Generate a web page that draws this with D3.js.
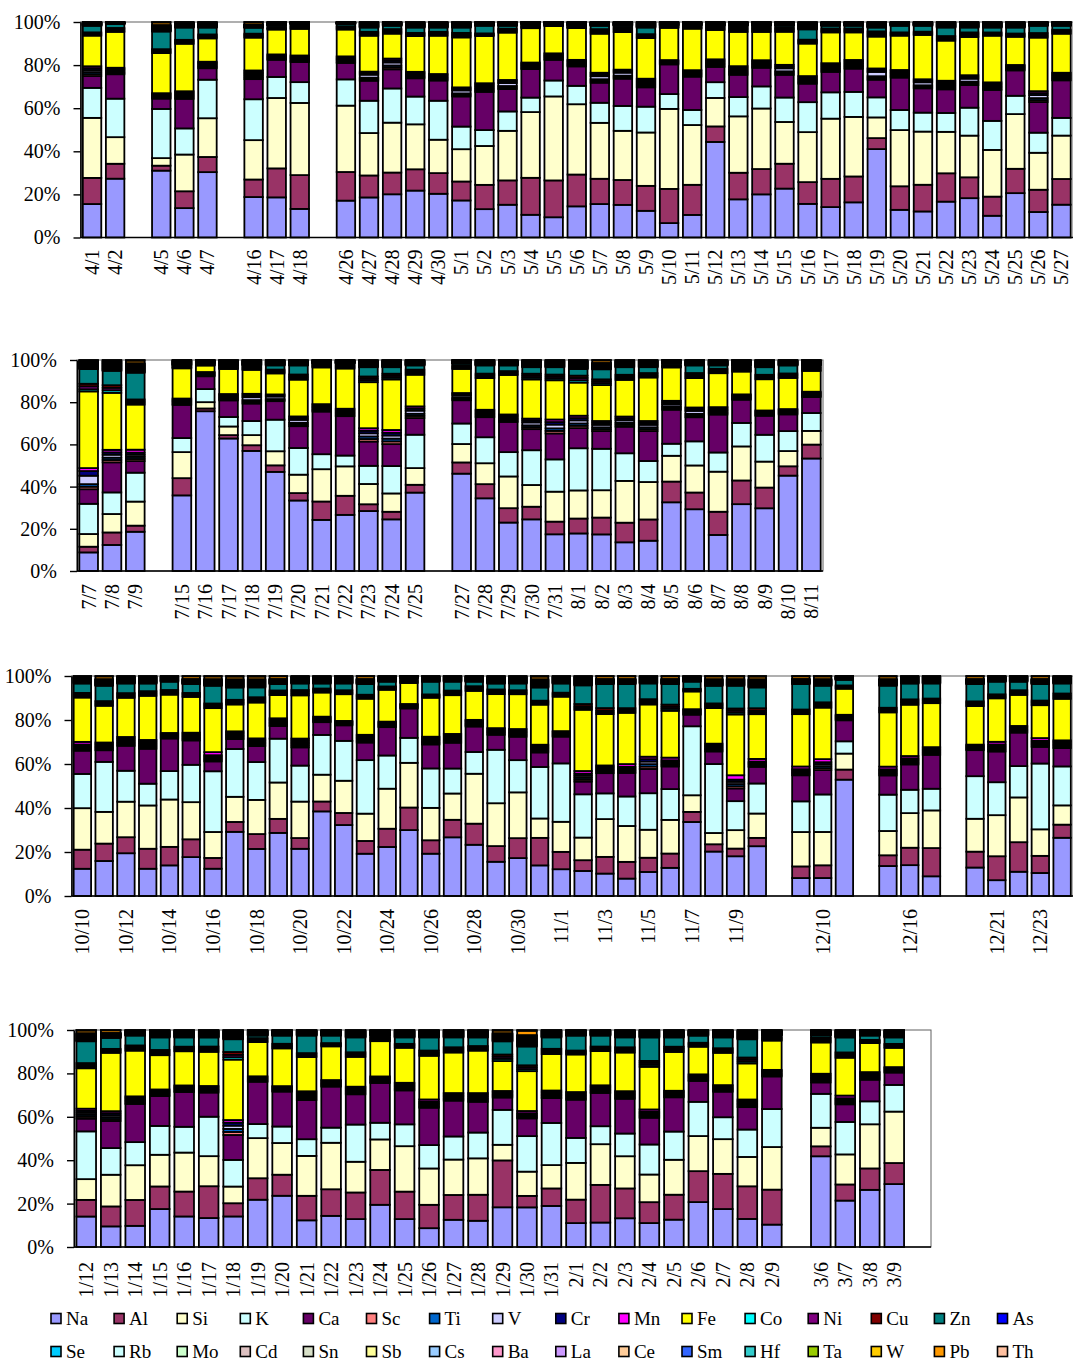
<!DOCTYPE html>
<html>
<head>
<meta charset="utf-8">
<script src="https://cdn.jsdelivr.net/npm/d3@7"></script>
<style>
  body { margin: 0; background: #fff; }
  svg text { font-family: "Liberation Serif", "Times New Roman", serif; fill: #000; }
</style>
</head>
<body>
<svg id="chart" width="1073" height="1363"></svg>
<script>
// Sampling days for the four seasonal panels ("" marks a blank separator slot)
const dates1 = ["4/1","4/2","","4/5","4/6","4/7","","4/16","4/17","4/18","","4/26","4/27","4/28","4/29","4/30",
  "5/1","5/2","5/3","5/4","5/5","5/6","5/7","5/8","5/9","5/10","5/11","5/12","5/13","5/14","5/15","5/16","5/17",
  "5/18","5/19","5/20","5/21","5/22","5/23","5/24","5/25","5/26","5/27"];
const dates2 = ["7/7","7/8","7/9","","7/15","7/16","7/17","7/18","7/19","7/20","7/21","7/22","7/23","7/24","7/25","",
  "7/27","7/28","7/29","7/30","7/31","8/1","8/2","8/3","8/4","8/5","8/6","8/7","8/8","8/9","8/10","8/11"];
const dates3 = ["10/10","10/11","10/12","10/13","10/14","10/15","10/16","10/17","10/18","10/19","10/20","10/21","10/22",
  "10/23","10/24","10/25","10/26","10/27","10/28","10/29","10/30","10/31","11/1","11/2","11/3","11/4","11/5","11/6",
  "11/7","11/8","11/9","11/10","","12/9","12/10","12/11","","12/15","12/16","12/17","","12/20","12/21","12/22","12/23","12/24"];
const dates4 = ["1/12","1/13","1/14","1/15","1/16","1/17","1/18","1/19","1/20","1/21","1/22","1/23","1/24","1/25","1/26",
  "1/27","1/28","1/29","1/30","1/31","2/1","2/2","2/3","2/4","2/5","2/6","2/7","2/8","2/9","","3/6","3/7","3/8","3/9",""];

// Element legend order (stack order, bottom to top) and fill colours
const elements = ["Na","Al","Si","K","Ca","Sc","Ti","V","Cr","Mn","Fe","Co","Ni","Cu","Zn","As",
  "Se","Rb","Mo","Cd","Sn","Sb","Cs","Ba","La","Ce","Sm","Hf","Ta","W","Pb","Th"];
const colors = ["#9999FF","#993366","#FFFFCC","#CCFFFF","#660066","#FF8080","#0066CC","#CCCCFF","#000080","#FF00FF",
  "#FFFF00","#00FFFF","#800080","#800000","#008080","#0000FF","#00CCFF","#CCFFFF","#CCFFCC","#DCC0C0","#D8E0C8",
  "#FFFF99","#99CCFF","#FF99CC","#CC99FF","#FFCC99","#3366FF","#33CCCC","#99CC00","#FFCC00","#FF9900","#FFC0A0"];

// Element mass fractions per sample (per mille), spring / summer / autumn-early winter / winter rows
const Na = [155,272,310,136,302,187,187,132,170,186,201,218,203,172,132,152,105,94,144,155,152,124,67,105,443,178,201,226,156,141,163,410,128,121,167,183,101,206,118,152,
  88,123,186,360,758,629,570,471,333,242,265,284,245,371,460,344,229,245,174,179,174,136,144,325,292,171,316,297,450,534,
  124,159,195,124,139,177,124,291,215,288,215,385,324,192,223,298,192,268,233,155,173,139,122,114,102,79,110,128,338,201,181,227,82,82,531,137,140,90,129,72,110,105,266,
  141,95,98,175,141,133,141,218,236,123,144,129,195,129,87,126,121,183,183,190,110,113,133,110,126,206,175,129,103,420,213,264,290];
const Al = [121,69,23,78,70,81,135,156,132,102,101,99,96,88,113,113,171,171,147,117,116,116,159,140,72,124,118,115,101,131,120,51,109,124,132,97,89,113,103,119,
  27,59,29,82,13,16,27,31,35,87,90,32,36,37,53,67,68,60,60,71,80,93,101,98,79,110,112,98,44,66,
  87,79,73,91,84,81,49,45,68,64,49,45,55,58,83,102,61,80,96,71,91,125,79,49,76,76,65,65,46,33,35,38,53,58,46,49,79,129,72,109,134,78,60,
  77,92,120,104,115,146,61,99,97,113,123,123,161,127,108,115,120,216,53,81,108,174,138,96,115,142,162,150,161,46,74,99,97];
const Si = [278,123,35,170,179,182,328,333,306,197,232,209,155,150,181,230,304,390,325,259,229,248,372,278,132,263,282,193,232,279,276,96,260,247,193,194,217,254,171,201,
  60,87,114,124,30,41,48,67,87,153,139,96,87,79,87,99,150,103,142,134,130,198,178,122,128,190,161,123,72,65,
  189,144,162,197,215,169,118,114,156,166,166,122,147,124,182,202,147,120,227,194,209,88,137,103,172,163,128,153,76,51,84,111,157,152,73,111,157,172,149,187,203,121,88,
  96,146,161,146,180,138,77,185,146,184,215,142,141,210,168,164,168,72,112,108,169,188,149,127,161,161,160,135,196,86,138,204,237];
const K = [139,178,228,121,178,189,98,96,121,150,159,129,181,105,74,90,67,74,85,93,116,120,69,70,73,90,103,113,139,122,116,93,93,88,88,130,135,85,93,82,
  143,102,137,67,62,45,67,150,126,71,51,86,130,158,97,123,115,165,153,201,197,131,100,57,114,91,111,127,94,85,
  156,227,141,99,129,170,276,217,173,200,164,181,182,243,151,113,179,114,99,242,147,234,266,197,117,134,167,140,315,312,132,137,140,171,56,166,106,99,193,150,142,300,178,
  221,123,107,133,119,181,123,65,76,77,70,172,77,101,108,107,119,161,164,195,115,83,105,138,130,157,101,126,175,157,149,106,123];
const Ca = [55,113,48,137,53,93,80,93,76,93,89,85,94,140,178,104,132,96,90,93,127,90,138,155,71,104,87,105,86,95,108,82,150,113,110,105,144,118,142,174,
  69,142,55,158,61,79,83,88,103,202,186,115,104,79,110,95,143,100,123,96,84,126,142,161,114,180,110,90,79,76,
  106,53,114,159,148,111,45,45,73,58,83,58,71,80,129,133,109,118,116,68,107,66,122,58,92,107,111,103,53,57,58,76,119,111,96,88,115,155,118,140,152,76,84,
  59,125,177,138,161,111,115,195,161,181,190,140,184,157,173,166,142,57,82,115,176,154,161,123,158,96,118,103,150,53,81,100,57];
const Sc = [9,6,5,7,6,8,5,6,6,7,9,6,6,7,8,7,6,6,6,8,7,8,4,6,7,8,7,8,7,8,8,8,7,7,8,8,7,5,9,7,
  12,11,10,6,4,6,8,5,8,7,7,12,13,10,6,7,7,9,12,11,9,9,9,8,8,7,5,5,5,5,
  7,7,8,8,5,7,7,7,7,7,8,5,4,7,5,4,7,8,6,6,7,7,5,9,7,7,11,7,5,7,10,6,7,9,5,7,7,7,5,8,6,7,7,
  9,9,7,6,6,6,14,5,5,8,6,7,6,7,7,7,8,6,6,7,7,7,7,7,6,6,6,7,6,8,7,7,5];
const Ti = [9,6,5,7,6,8,5,6,6,7,9,6,6,7,8,7,6,6,6,8,7,8,4,6,7,8,7,8,7,8,8,8,7,7,8,8,7,5,9,7,
  12,11,10,6,4,6,8,5,8,7,7,12,13,10,6,7,7,9,12,11,9,9,9,8,8,7,5,5,5,5,
  7,7,8,8,5,7,7,7,7,7,8,5,4,7,5,4,7,8,6,6,7,7,5,9,7,7,11,7,5,7,10,6,7,9,5,7,7,7,5,8,6,7,7,
  9,9,7,6,6,6,14,5,5,8,6,7,6,7,7,7,8,6,6,7,7,7,7,7,6,6,6,7,6,8,7,7,5];
const V = [9,6,5,7,6,8,5,6,6,14,14,6,6,14,8,14,6,6,6,14,14,8,4,6,7,8,7,14,7,8,8,20,7,14,8,14,7,5,14,7,
  40,14,10,6,4,6,14,12,14,7,7,15,15,15,10,7,7,14,18,15,12,12,12,10,14,7,5,5,5,5,
  7,7,8,8,5,7,7,7,7,7,8,5,4,7,5,4,7,8,6,6,7,7,5,9,7,7,12,7,5,7,10,6,7,9,5,7,7,7,5,8,6,7,7,
  9,9,7,6,6,6,15,5,5,8,6,7,6,7,7,7,8,6,6,7,7,7,7,7,6,6,6,7,6,8,7,7,5];
const Cr = [9,6,5,7,6,8,5,6,6,7,9,6,6,7,8,7,6,6,6,8,7,8,4,6,7,8,7,8,7,8,8,8,7,7,8,8,7,5,9,7,
  22,11,10,6,4,6,8,5,8,7,7,12,13,10,6,7,7,9,12,11,9,9,9,8,8,7,5,5,5,5,
  7,7,8,8,5,7,7,7,7,7,8,5,4,7,5,4,7,8,6,6,7,7,5,9,7,7,11,7,5,7,10,6,7,9,5,7,7,7,5,8,6,7,7,
  9,9,7,6,6,6,14,5,5,8,6,7,6,7,7,7,8,6,6,7,7,7,7,7,6,6,6,7,6,8,7,7,5];
const Mn = [9,6,5,7,6,8,5,6,6,7,9,6,6,7,8,7,6,6,6,8,7,8,4,6,7,8,7,8,7,8,8,8,7,7,8,8,7,5,9,7,
  14,12,14,6,4,6,8,5,8,7,7,12,13,10,6,7,7,9,12,11,9,9,9,8,8,7,5,5,5,5,
  12,7,8,8,5,7,14,7,7,7,8,5,4,7,5,4,7,8,6,6,7,7,5,12,7,12,11,12,5,7,20,12,12,14,5,12,10,7,5,12,6,12,7,
  10,9,7,6,6,6,12,5,5,8,6,7,6,7,10,7,8,6,10,7,7,7,7,10,6,6,6,7,6,8,12,7,5];
const Fe = [142,166,186,220,108,152,116,123,124,167,116,166,178,232,220,220,159,127,147,181,175,189,150,193,136,160,132,153,151,143,128,148,159,206,187,178,217,131,248,181,
  363,269,214,144,31,119,114,100,174,174,190,218,240,150,114,150,187,186,186,158,171,174,207,158,139,161,108,148,147,99,
  202,167,179,201,174,163,200,122,164,106,197,110,122,164,145,95,177,177,132,154,159,182,157,279,234,233,239,213,81,161,277,204,239,235,119,248,233,201,175,198,141,150,190,
  187,269,212,158,158,157,279,158,174,158,156,138,163,162,202,188,196,138,184,169,173,158,179,196,179,127,149,166,135,145,174,134,89];
const Co = [5,6,6,6,6,6,3,5,5,6,7,5,6,7,4,6,4,2,2,7,7,6,2,3,5,7,7,6,6,6,6,8,5,5,7,7,5,5,7,6,
  10,12,8,3,2,4,5,6,8,4,5,9,9,8,5,7,6,9,9,11,9,8,7,3,8,7,7,7,7,6,
  7,7,7,7,7,6,7,7,8,7,8,6,6,6,5,5,5,7,7,7,6,6,6,8,8,7,8,9,4,7,9,8,7,8,5,7,8,7,7,6,7,7,8,
  8,6,8,8,7,8,11,6,7,6,5,7,6,6,8,8,7,10,9,8,6,7,8,9,8,6,7,9,5,7,8,5,6];
const Ni = [5,6,6,6,6,6,3,5,5,6,7,5,6,7,4,6,4,2,2,7,7,6,2,3,5,7,7,6,6,6,6,8,5,5,7,7,5,5,7,6,
  14,12,8,3,2,4,5,6,8,4,5,9,9,8,5,7,6,9,9,11,9,8,7,3,8,7,7,7,7,6,
  7,7,7,7,7,6,7,7,8,7,8,6,6,6,5,5,5,7,7,7,6,6,6,8,8,7,8,9,4,7,9,8,7,8,5,7,8,7,7,6,7,7,8,
  8,6,8,8,7,8,11,6,7,6,5,7,6,6,8,8,7,10,9,8,6,7,8,9,8,6,7,9,5,7,8,5,6];
const Cu = [5,6,6,6,6,6,3,5,5,6,7,5,6,7,4,6,4,2,2,7,7,6,2,3,5,7,7,6,6,6,6,8,5,5,7,7,5,5,7,6,
  12,12,8,3,2,4,5,6,8,4,5,9,9,8,5,7,6,9,9,11,9,8,7,3,8,7,7,7,7,6,
  7,7,7,7,7,6,7,7,8,7,8,6,6,6,5,5,5,7,7,7,6,6,6,10,11,7,8,10,4,7,9,11,7,8,5,7,8,7,7,6,7,7,8,
  8,6,8,8,7,8,13,6,7,6,5,7,6,6,8,8,7,10,9,8,6,7,8,9,8,6,7,9,5,7,8,5,6];
const Zn = [31,19,82,57,32,28,9,8,11,20,16,25,20,25,36,14,8,4,5,16,9,31,4,5,5,8,8,10,48,13,13,18,31,28,40,23,23,28,34,19,
  70,68,127,5,3,5,6,20,43,6,8,44,31,20,10,39,27,31,35,32,48,36,28,9,36,16,8,36,38,8,
  43,70,44,35,38,41,81,56,45,30,30,23,31,49,22,8,58,41,21,27,31,60,42,85,110,110,72,94,33,80,104,95,117,76,26,101,72,69,79,58,39,76,46,
  101,51,46,58,43,42,59,12,38,81,35,69,8,30,61,46,40,61,87,53,69,51,46,108,43,33,50,84,8,11,69,20,30];
// trace elements
const As = [1,0.5,2,1.5,1.5,1,1,0.5,0.5,1.5,1,1.5,1.5,1.5,1,1,0.5,0.5,1,1,1,1.5,1,1,1,1,1,1,2,1,1,1.5,1,1,1.5,1.5,1.5,1.5,1,1,
  2.5,3,3,1.5,1,1.5,1.5,1.5,1.5,1,1,2,2,1.5,1,1.5,1.5,2,2,2.5,2,2,2,1,1.5,1.5,1.5,2,1.5,1.5,
  2,2,2,2,1.5,1.5,2,2.5,2.5,1.5,2,2,2,1.5,1.5,0.5,1.5,1.5,1.5,2,2,2.5,2,2.5,1.5,1.5,2,1.5,1.5,2,2,2.5,1.5,2,1,2,2,2,1.5,1.5,1.5,1.5,2,
  2.5,1.5,1.5,2,2,2,2.5,1.5,1.5,1.5,1.5,2,1.5,2,2,2,2,2.5,3.5,2,1.5,1.5,2,2,2,1.5,2,2.5,1.5,1.5,2,1.5,2];
const Se = [1,0.5,2,1.5,1.5,1,1,0.5,0.5,1.5,1,1.5,1.5,1.5,1,1,0.5,0.5,1,1,1,1.5,1,1,1,1,1,1,2,1,1,1.5,1,1,1.5,1.5,1.5,1.5,1,1,
  2.5,3,3,1.5,1,1.5,1.5,1.5,1.5,1,1,2,2,1.5,1,1.5,1.5,2,2,2.5,2,2,2,1,1.5,1.5,1.5,2,1.5,1.5,
  2,2,2,2,1.5,1.5,2,2.5,2.5,1.5,2,2,2,1.5,1.5,0.5,1.5,1.5,1.5,2,2,2.5,2,2.5,1.5,1.5,2,1.5,1.5,2,2,2.5,1.5,2,1,2,2,2,1.5,1.5,1.5,1.5,2,
  2.5,1.5,1.5,2,2,2,2.5,1.5,1.5,1.5,1.5,2,1.5,2,2,2,2,2.5,3.5,2,1.5,1.5,2,2,2,1.5,2,2.5,1.5,1.5,2,1.5,2];
const Rb = [1,0.5,2,1.5,1.5,1,1,0.5,0.5,1.5,1,1.5,1.5,1.5,1,1,0.5,0.5,1,1,1,1.5,1,1,1,1,1,1,2,1,1,1.5,1,1,1.5,1.5,1.5,1.5,1,1,
  2.5,3,3,1.5,1,1.5,1.5,1.5,1.5,1,1,2,2,1.5,1,1.5,1.5,2,2,2.5,2,2,2,1,1.5,1.5,1.5,2,1.5,1.5,
  2,2,2,2,1.5,1.5,2,2.5,2.5,1.5,2,2,2,1.5,1.5,0.5,1.5,1.5,1.5,2,2,2.5,2,2.5,1.5,1.5,2,1.5,1.5,2,2,2.5,1.5,2,1,2,2,2,1.5,1.5,1.5,1.5,2,
  2.5,1.5,1.5,2,2,2,2.5,1.5,1.5,1.5,1.5,2,1.5,2,2,2,2,2.5,3.5,2,1.5,1.5,2,2,2,1.5,2,2.5,1.5,1.5,2,1.5,2];
const Mo = [1,0.5,2,1.5,1.5,1,1,0.5,0.5,1.5,1,1.5,1.5,1.5,1,1,0.5,0.5,1,1,1,1.5,1,1,1,1,1,1,2,1,1,1.5,1,1,1.5,1.5,1.5,1.5,1,1,
  2.5,3,3,1.5,1,1.5,1.5,1.5,1.5,1,1,2,2,1.5,1,1.5,1.5,2,2,2.5,2,2,2,1,1.5,1.5,1.5,2,1.5,1.5,
  2,2,2,2,1.5,1.5,2,2.5,2.5,1.5,2,2,2,1.5,1.5,0.5,1.5,1.5,1.5,2,2,2.5,2,2.5,1.5,1.5,2,1.5,1.5,2,2,2.5,1.5,2,1,2,2,2,1.5,1.5,1.5,1.5,2,
  2.5,1.5,1.5,2,2,2,2.5,1.5,1.5,1.5,1.5,2,1.5,2,2,2,2,2.5,3.5,2,1.5,1.5,2,2,2,1.5,2,2.5,1.5,1.5,2,1.5,2];
const Cd = [1,0.5,2,1.5,1.5,1,1,0.5,0.5,1.5,1,1.5,1.5,1.5,1,1,0.5,0.5,1,1,1,1.5,1,1,1,1,1,1,2,1,1,1.5,1,1,1.5,1.5,1.5,1.5,1,1,
  2.5,3,3,1.5,1,1.5,1.5,1.5,1.5,1,1,2,2,1.5,1,1.5,1.5,2,2,2.5,2,2,2,1,1.5,1.5,1.5,2,1.5,1.5,
  2,2,2,2,1.5,1.5,2,2.5,2.5,1.5,2,2,2,1.5,1.5,0.5,1.5,1.5,1.5,2,2,2.5,2,2.5,1.5,1.5,2,1.5,1.5,2,2,2.5,1.5,2,1,2,2,2,1.5,1.5,1.5,1.5,2,
  2.5,1.5,1.5,2,2,2,2.5,1.5,1.5,1.5,1.5,2,1.5,2,2,2,2,2.5,3.5,2,1.5,1.5,2,2,2,1.5,2,2.5,1.5,1.5,2,1.5,2];
const Sn = [1,0.5,2,1.5,1.5,1,1,0.5,0.5,1.5,1,1.5,1.5,1.5,1,1,0.5,0.5,1,1,1,1.5,1,1,1,1,1,1,2,1,1,1.5,1,1,1.5,1.5,1.5,1.5,1,1,
  2.5,3,3,1.5,1,1.5,1.5,1.5,1.5,1,1,2,2,1.5,1,1.5,1.5,2,2,2.5,2,2,2,1,1.5,1.5,1.5,2,1.5,1.5,
  2,2,2,2,1.5,1.5,2,2.5,2.5,1.5,2,2,2,1.5,1.5,0.5,1.5,1.5,1.5,2,2,2.5,2,2.5,1.5,1.5,2,1.5,1.5,2,2,2.5,1.5,2,1,2,2,2,1.5,1.5,1.5,1.5,2,
  2.5,1.5,1.5,2,2,2,2.5,1.5,1.5,1.5,1.5,2,1.5,2,2,2,2,2.5,3.5,2,1.5,1.5,2,2,2,1.5,2,2.5,1.5,1.5,2,1.5,2];
const Sb = [1,0.5,2,1.5,1.5,1,1,0.5,0.5,1.5,1,1.5,1.5,1.5,1,1,0.5,0.5,1,1,1,1.5,1,1,1,1,1,1,2,1,1,1.5,1,1,1.5,1.5,1.5,1.5,1,1,
  2.5,3,3,1.5,1,1.5,1.5,1.5,1.5,1,1,2,2,1.5,1,1.5,1.5,2,2,2.5,2,2,2,1,1.5,1.5,1.5,2,1.5,1.5,
  2,2,2,2,1.5,1.5,2,2.5,2.5,1.5,2,2,2,1.5,1.5,0.5,1.5,1.5,1.5,2,2,2.5,2,2.5,1.5,1.5,2,1.5,1.5,2,2,2.5,1.5,2,1,2,2,2,1.5,1.5,1.5,1.5,2,
  2.5,1.5,1.5,2,2,2,2.5,1.5,1.5,1.5,1.5,2,1.5,2,2,2,2,2.5,3.5,2,1.5,1.5,2,2,2,1.5,2,2.5,1.5,1.5,2,1.5,2];
const Cs = [1,0.5,2,1.5,1.5,1,1,0.5,0.5,1.5,1,1.5,1.5,1.5,1,1,0.5,0.5,1,1,1,1.5,1,1,1,1,1,1,2,1,1,1.5,1,1,1.5,1.5,1.5,1.5,1,1,
  2.5,3,3,1.5,1,1.5,1.5,1.5,1.5,1,1,2,2,1.5,1,1.5,1.5,2,2,2.5,2,2,2,1,1.5,1.5,1.5,2,1.5,1.5,
  2,2,2,2,1.5,1.5,2,2.5,2.5,1.5,2,2,2,1.5,1.5,0.5,1.5,1.5,1.5,2,2,2.5,2,2.5,1.5,1.5,2,1.5,1.5,2,2,2.5,1.5,2,1,2,2,2,1.5,1.5,1.5,1.5,2,
  2.5,1.5,1.5,2,2,2,2.5,1.5,1.5,1.5,1.5,2,1.5,2,2,2,2,2.5,3.5,2,1.5,1.5,2,2,2,1.5,2,2.5,1.5,1.5,2,1.5,2];
const Ba = [1,0.5,2,1.5,1.5,1,1,0.5,0.5,1.5,1,1.5,1.5,1.5,1,1,0.5,0.5,1,1,1,1.5,1,1,1,1,1,1,2,1,1,1.5,1,1,1.5,1.5,1.5,1.5,1,1,
  2.5,3,3,1.5,1,1.5,1.5,1.5,1.5,1,1,2,2,1.5,1,1.5,1.5,2,2,2.5,2,2,2,1,1.5,1.5,1.5,2,1.5,1.5,
  2,2,2,2,1.5,1.5,2,2.5,2.5,1.5,2,2,2,1.5,1.5,0.5,1.5,1.5,1.5,2,2,2.5,2,2.5,1.5,1.5,2,1.5,1.5,2,2,2.5,1.5,2,1,2,2,2,1.5,1.5,1.5,1.5,2,
  2.5,1.5,1.5,2,2,2,2.5,1.5,1.5,1.5,1.5,2,1.5,2,2,2,2,2.5,3.5,2,1.5,1.5,2,2,2,1.5,2,2.5,1.5,1.5,2,1.5,2];
const La = [1,0.5,2,1.5,1.5,1,1,0.5,0.5,1.5,1,1.5,1.5,1.5,1,1,0.5,0.5,1,1,1,1.5,1,1,1,1,1,1,2,1,1,1.5,1,1,1.5,1.5,1.5,1.5,1,1,
  2.5,3,3,1.5,1,1.5,1.5,1.5,1.5,1,1,2,2,1.5,1,1.5,1.5,2,2,2.5,2,2,2,1,1.5,1.5,1.5,2,1.5,1.5,
  2,2,2,2,1.5,1.5,2,2.5,2.5,1.5,2,2,2,1.5,1.5,0.5,1.5,1.5,1.5,2,2,2.5,2,2.5,1.5,1.5,2,1.5,1.5,2,2,2.5,1.5,2,1,2,2,2,1.5,1.5,1.5,1.5,2,
  2.5,1.5,1.5,2,2,2,2.5,1.5,1.5,1.5,1.5,2,1.5,2,2,2,2,2.5,3.5,2,1.5,1.5,2,2,2,1.5,2,2.5,1.5,1.5,2,1.5,2];
const Ce = [1,0.5,2,1.5,1.5,1,1,0.5,0.5,1.5,1,1.5,1.5,1.5,1,1,0.5,0.5,1,1,1,1.5,1,1,1,1,1,1,2,1,1,1.5,1,1,1.5,1.5,1.5,1.5,1,1,
  2.5,3,3,1.5,1,1.5,1.5,1.5,1.5,1,1,2,2,1.5,1,1.5,1.5,2,2,2.5,2,2,2,1,1.5,1.5,1.5,2,1.5,1.5,
  2,2,2,2,1.5,1.5,2,2.5,2.5,1.5,2,2,2,1.5,1.5,0.5,1.5,1.5,1.5,2,2,2.5,2,2.5,1.5,1.5,2,1.5,1.5,2,2,2.5,1.5,2,1,2,2,2,1.5,1.5,1.5,1.5,2,
  2.5,1.5,1.5,2,2,2,2.5,1.5,1.5,1.5,1.5,2,1.5,2,2,2,2,2.5,3.5,2,1.5,1.5,2,2,2,1.5,2,2.5,1.5,1.5,2,1.5,2];
const Sm = [1,0.5,2,1.5,1.5,1,1,0.5,0.5,1.5,1,1.5,1.5,1.5,1,1,0.5,0.5,1,1,1,1.5,1,1,1,1,1,1,2,1,1,1.5,1,1,1.5,1.5,1.5,1.5,1,1,
  2.5,3,3,1.5,1,1.5,1.5,1.5,1.5,1,1,2,2,1.5,1,1.5,1.5,2,2,2.5,2,2,2,1,1.5,1.5,1.5,2,1.5,1.5,
  2,2,2,2,1.5,1.5,2,2.5,2.5,1.5,2,2,2,1.5,1.5,0.5,1.5,1.5,1.5,2,2,2.5,2,2.5,1.5,1.5,2,1.5,1.5,2,2,2.5,1.5,2,1,2,2,2,1.5,1.5,1.5,1.5,2,
  2.5,1.5,1.5,2,2,2,2.5,1.5,1.5,1.5,1.5,2,1.5,2,2,2,2,2.5,3.5,2,1.5,1.5,2,2,2,1.5,2,2.5,1.5,1.5,2,1.5,2];
const Hf = [1,0.5,2,1.5,1.5,1,1,0.5,0.5,1.5,1,1.5,1.5,1.5,1,1,0.5,0.5,1,1,1,1.5,1,1,1,1,1,1,2,1,1,1.5,1,1,1.5,1.5,1.5,1.5,1,1,
  2.5,3,3,1.5,1,1.5,1.5,1.5,1.5,1,1,2,2,1.5,1,1.5,1.5,2,2,2.5,2,2,2,1,1.5,1.5,1.5,2,1.5,1.5,
  2,2,2,2,1.5,1.5,2,2.5,2.5,1.5,2,2,2,1.5,1.5,0.5,1.5,1.5,1.5,2,2,2.5,2,2.5,1.5,1.5,2,1.5,1.5,2,2,2.5,1.5,2,1,2,2,2,1.5,1.5,1.5,1.5,2,
  2.5,1.5,1.5,2,2,2,2.5,1.5,1.5,1.5,1.5,2,1.5,2,2,2,2,2.5,3.5,2,1.5,1.5,2,2,2,1.5,2,2.5,1.5,1.5,2,1.5,2];
const Ta = [1,0.5,2,1.5,1.5,1,1,0.5,0.5,1.5,1,1.5,1.5,1.5,1,1,0.5,0.5,1,1,1,1.5,1,1,1,1,1,1,2,1,1,1.5,1,1,1.5,1.5,1.5,1.5,1,1,
  2.5,3,3,1.5,1,1.5,1.5,1.5,1.5,1,1,2,2,1.5,1,1.5,1.5,2,2,2.5,2,2,2,1,1.5,1.5,1.5,2,1.5,1.5,
  2,2,2,2,1.5,1.5,2,2.5,2.5,1.5,2,2,2,1.5,1.5,0.5,1.5,1.5,1.5,2,2,2.5,2,2.5,1.5,1.5,2,1.5,1.5,2,2,2.5,1.5,2,1,2,2,2,1.5,1.5,1.5,1.5,2,
  2.5,1.5,1.5,2,2,2,2.5,1.5,1.5,1.5,1.5,2,1.5,2,2,2,2,2.5,3.5,2,1.5,1.5,2,2,2,1.5,2,2.5,1.5,1.5,2,1.5,2];
const W = [1,0.5,2,1.5,1.5,1,1,0.5,0.5,1.5,1,1.5,1.5,1.5,1,1,0.5,0.5,1,1,1,1.5,1,1,1,1,1,1,2,1,1,1.5,1,1,1.5,1.5,1.5,1.5,1,1,
  2.5,3,3,1.5,1,1.5,1.5,1.5,1.5,1,1,2,2,1.5,1,1.5,1.5,2,2,2.5,2,2,2,1,1.5,1.5,1.5,2,1.5,1.5,
  2,2,2,2,1.5,1.5,2,2.5,2.5,1.5,2,2,2,1.5,1.5,0.5,1.5,1.5,1.5,2,2,2.5,2,2.5,1.5,1.5,2,1.5,1.5,2,2,2.5,1.5,2,1,2,2,2,1.5,1.5,1.5,1.5,2,
  2.5,1.5,1.5,2,2,2,2.5,1.5,1.5,1.5,1.5,2,1.5,2,2,2,2,2.5,3.5,2,1.5,1.5,2,2,2,1.5,2,2.5,1.5,1.5,2,1.5,2];
const Pb = [1,0.5,12,1.5,1.5,10,1,0.5,0.5,1.5,1,1.5,1.5,1.5,1,1,0.5,0.5,1,1,1,1.5,1,1,1,1,1,1,2,1,1,1.5,1,1,1.5,1.5,1.5,1.5,1,1,
  2.5,3,12,1.5,1,1.5,1.5,1.5,1.5,1,1,2,2,1.5,1,1.5,1.5,2,2,2.5,12,2,2,1,1.5,1.5,1.5,2,1.5,1.5,
  2,12,2,2,1.5,12,12,12,12,12,2,2,2,12,1.5,0.5,1.5,1.5,1.5,2,2,12,2,2.5,12,12,2,12,1.5,12,12,12,12,12,1,12,2,2,12,1.5,1.5,12,2,
  12,12,1.5,2,2,2,2.5,1.5,1.5,1.5,1.5,2,1.5,2,2,2,2,12,20,2,1.5,1.5,2,2,2,1.5,2,2.5,1.5,1.5,2,1.5,2];
const Th = [1,0.5,2,1.5,1.5,1,1,0.5,0.5,1.5,1,1.5,1.5,1.5,1,1,0.5,0.5,1,1,1,1.5,1,1,1,1,1,1,2,1,1,1.5,1,1,1.5,1.5,1.5,1.5,1,1,
  2.5,3,3,1.5,1,1.5,1.5,1.5,1.5,1,1,2,2,1.5,1,1.5,1.5,2,2,2.5,2,2,2,1,1.5,1.5,1.5,2,1.5,1.5,
  2,2,2,2,1.5,1.5,2,2.5,2.5,1.5,2,2,2,1.5,1.5,0.5,1.5,1.5,1.5,2,2,2.5,2,2.5,1.5,1.5,2,1.5,1.5,2,2,2.5,1.5,2,1,2,2,2,1.5,1.5,1.5,1.5,2,
  2.5,1.5,1.5,2,2,2,2.5,1.5,1.5,1.5,1.5,2,1.5,2,2,2,2,2.5,3.5,2,1.5,1.5,2,2,2,1.5,2,2.5,1.5,1.5,2,1.5,2];

// lookup table from element symbol to its sample series
const seriesBySymbol = {Na, Al, Si, K, Ca, Sc, Ti, V, Cr, Mn, Fe, Co, Ni, Cu, Zn, As, Se, Rb, Mo, Cd, Sn, Sb, Cs, Ba, La, Ce, Sm, Hf, Ta, W, Pb, Th};

// panel layout
const panels = [
  {cats: dates1, left: 80.5, right: 1073, top: 22, bottom: 237.5, labelGap: 12, every: 1},
  {cats: dates2, left: 77, right: 823, top: 360, bottom: 571, labelGap: 13, every: 1},
  {cats: dates3, left: 71.5, right: 1073, top: 676, bottom: 896, labelGap: 13, every: 2},
  {cats: dates4, left: 74, right: 931, top: 1030, bottom: 1247, labelGap: 15, every: 1}
];

const svg = d3.select("#chart");
svg.append("rect").attr("width", 1073).attr("height", 1363).attr("fill", "#fff");

let cursor = 0;
panels.forEach(p => {
  const n = p.cats.length;
  const x = d3.scaleBand().domain(d3.range(n)).range([p.left, p.right]).padding(0);
  const y = d3.scaleLinear().domain([0, 1]).range([p.bottom, p.top]);

  const rows = [];
  p.cats.forEach((c, i) => {
    if (!c) return;
    const r = {slot: i};
    elements.forEach(e => { r[e] = seriesBySymbol[e][cursor]; });
    rows.push(r);
    cursor++;
  });
  const layers = d3.stack().keys(elements).offset(d3.stackOffsetExpand)(rows);

  const g = svg.append("g");
  // plot-area frame
  g.append("rect")
    .attr("x", p.left).attr("y", p.top)
    .attr("width", p.right - p.left).attr("height", p.bottom - p.top)
    .attr("fill", "none").attr("stroke", "#606060").attr("stroke-width", 1);

  const slot = x.bandwidth();
  const bw = slot * 0.8, off = slot * 0.1;
  layers.forEach((layer, li) => {
    g.append("g").selectAll("rect")
      .data(layer.filter(d => d[1] - d[0] > 0))
      .join("rect")
      .attr("x", d => x(d.data.slot) + off)
      .attr("width", bw)
      .attr("y", d => y(d[1]))
      .attr("height", d => y(d[0]) - y(d[1]))
      .attr("fill", colors[li])
      .attr("stroke", "#000")
      .attr("stroke-width", 1.8);
  });

  // value axis
  const yAxis = d3.axisLeft(y)
    .tickValues([0, 0.2, 0.4, 0.6, 0.8, 1])
    .tickFormat(d3.format(".0%"))
    .tickSize(7).tickSizeOuter(0).tickPadding(13);
  const ya = g.append("g").attr("transform", `translate(${p.left},0)`).call(yAxis);
  ya.select(".domain").attr("stroke", "#000").attr("stroke-width", 1.6);
  ya.selectAll(".tick line").attr("stroke", "#000").attr("stroke-width", 1.4);
  ya.selectAll(".tick text").attr("font-size", 20).attr("font-family", "Liberation Serif");

  // category axis line
  g.append("line")
    .attr("x1", p.left).attr("x2", p.right)
    .attr("y1", p.bottom).attr("y2", p.bottom)
    .attr("stroke", "#000").attr("stroke-width", 1.6);

  // date labels
  g.append("g").selectAll("text")
    .data(p.cats.map((c, i) => ({c, i})).filter(d => d.c && d.i % p.every === 0))
    .join("text")
    .attr("transform", d => `translate(${x(d.i) + slot / 2},${p.bottom + p.labelGap}) rotate(-90)`)
    .attr("text-anchor", "end")
    .attr("dy", "0.35em")
    .attr("font-size", 20)
    .text(d => d.c);
});

// legend, two rows of sixteen
const legend = svg.append("g");
elements.forEach((e, i) => {
  const row = Math.floor(i / 16), col = i % 16;
  const lx = 51 + col * 63.1, ly = 1319 + row * 33;
  legend.append("rect")
    .attr("x", lx).attr("y", ly - 5.5)
    .attr("width", 10).attr("height", 10)
    .attr("fill", colors[i]).attr("stroke", "#000").attr("stroke-width", 1.6);
  legend.append("text")
    .attr("x", lx + 15).attr("y", ly)
    .attr("dy", "0.33em")
    .attr("font-size", 19)
    .text(e);
});
</script>
</body>
</html>
